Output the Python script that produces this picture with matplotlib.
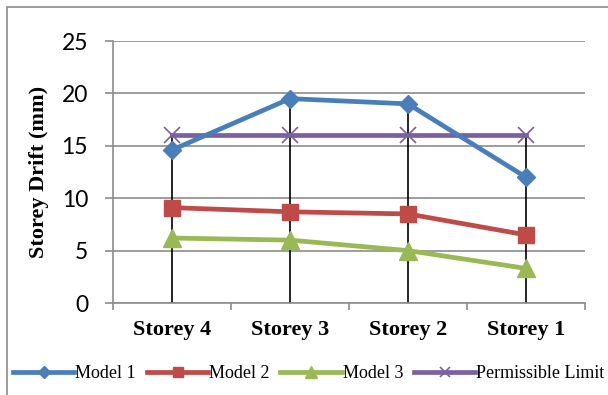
import matplotlib.pyplot as plt
from matplotlib.patches import Rectangle

storeys = ['Storey 4', 'Storey 3', 'Storey 2', 'Storey 1']
model1 = [14.6, 19.5, 19.0, 12.0]
model2 = [9.1, 8.7, 8.5, 6.5]
model3 = [6.2, 6.0, 5.0, 3.3]
limit = [16, 16, 16, 16]

fig = plt.figure(figsize=(6.08, 3.95), dpi=100)
ax = fig.add_axes([113 / 608, 1 - 303 / 395, 472 / 608, 262 / 395])

# outer frame of the chart area
fig.patches.append(Rectangle((7 / 608, -0.1), 1.2, 1 - 7 / 395 + 0.1,
                             transform=fig.transFigure, fill=False,
                             edgecolor='#8c8c8c', linewidth=1.2))

x = [i + 0.5 for i in range(len(storeys))]

# drop lines up to the highest series value at each storey
tops = [max(v) for v in zip(model1, model2, model3, limit)]
ax.vlines(x, 0, tops, color='black', linewidth=1.2, zorder=2)

ax.plot(x, model1, color='#4a7ebb', lw=3.4, marker='D', ms=9, label='Model 1', zorder=4)
ax.plot(x, model2, color='#be4b48', lw=3.4, marker='s', ms=12, label='Model 2', zorder=4)
ax.plot(x, model3, color='#98b954', lw=3.4, marker='^', ms=13, label='Model 3', zorder=4)
ax.plot(x, limit, color='#7d60a0', lw=3.4, marker='x', ms=11, mew=1.2, label='Permissible Limit', zorder=3)

ax.set_xlim(0, 4)
ax.set_ylim(0, 25)
ax.set_yticks(range(0, 26, 5))
ax.yaxis.grid(True, color='#8c8c8c', linewidth=1.2)
ax.set_axisbelow(True)
ax.tick_params(axis='y', labelsize=16.5, length=6, color='#8c8c8c', width=1.2, pad=12)
for lab in ax.get_yticklabels():
    lab.set_family('Lato')

ax.set_xticks(range(0, 5), minor=False)
ax.set_xticklabels([])
ax.set_xticks(x, minor=True)
ax.set_xticklabels(storeys, minor=True, family='Liberation Serif',
                   fontweight='bold', fontsize=16)
ax.tick_params(axis='x', which='major', length=5, color='#8c8c8c', width=1.2, direction='out')
ax.tick_params(axis='x', which='minor', length=0, pad=12)

for side in ['top', 'right']:
    ax.spines[side].set_visible(False)
for side in ['left', 'bottom']:
    ax.spines[side].set_color('#8c8c8c')
    ax.spines[side].set_linewidth(1.2)

ax.set_ylabel('Storey Drift (mm)', family='Liberation Serif', fontweight='bold',
              fontsize=16, labelpad=9)

leg = fig.legend(loc='center', bbox_to_anchor=(0.508, 1 - 374 / 395), ncol=4,
                 frameon=False, prop={'family': 'Liberation Serif', 'size': 13},
                 handlelength=3.4, handletextpad=0.05, columnspacing=0.6,
                 markerscale=0.65)

plt.savefig('out.png', dpi=100)
